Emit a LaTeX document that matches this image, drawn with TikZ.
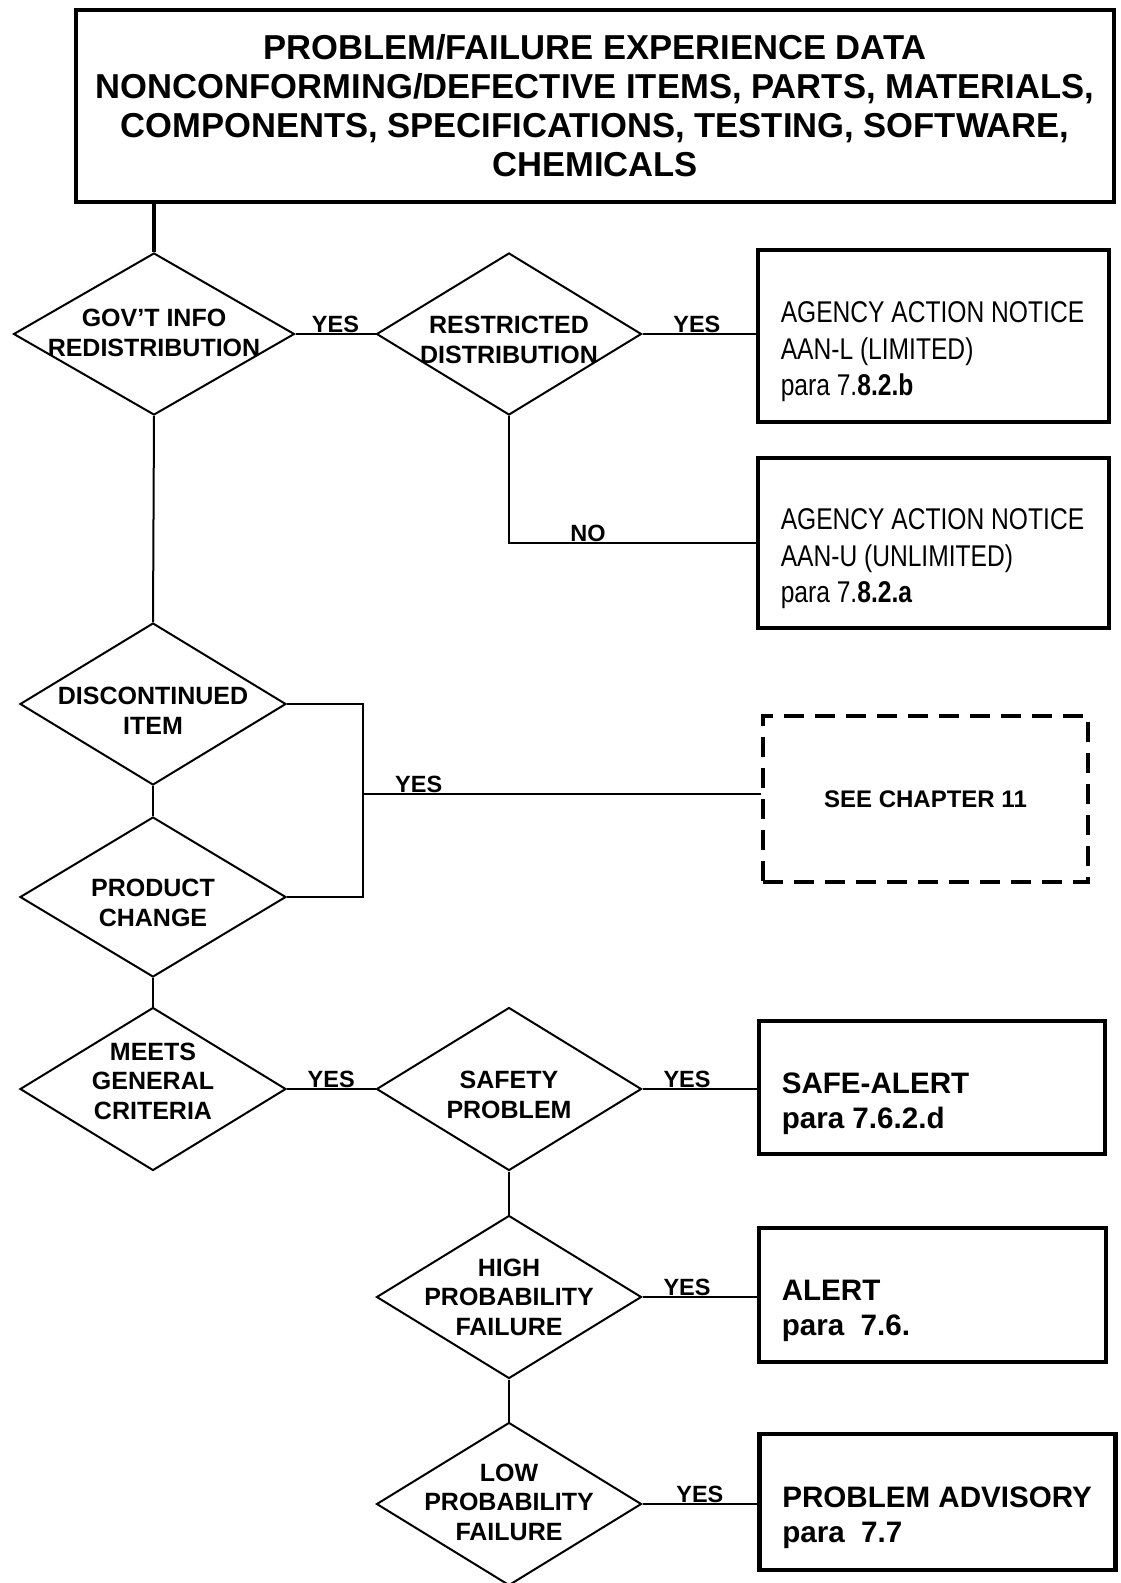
\documentclass[tikz,border=0pt]{standalone}
\usepackage{fontspec}
\setmainfont{Liberation Sans}
\newfontfamily\narrowfont[FakeStretch=0.82]{Liberation Sans}
\usetikzlibrary{shapes.geometric}

\begin{document}
\begin{tikzpicture}[x=1pt,y=-1pt,line width=2pt]
	\tikzstyle{decision}=[diamond,draw,inner sep=0pt,minimum width=265pt,minimum height=163pt]
	\tikzstyle{dtext}=[inner sep=0pt,align=center,font=\fontsize{25}{29.5}\selectfont\bfseries]
	\tikzstyle{outcome}=[rectangle,draw,line width=4.5pt,minimum width=347pt,minimum height=134pt]
	\tikzstyle{otext}=[anchor=west,inner sep=0pt,xshift=24pt,yshift=-16pt,align=left,font=\fontsize{29.6}{35}\selectfont\bfseries]
	\tikzstyle{ntext}=[otext,font=\narrowfont\fontsize{30}{36.5}\selectfont]
	\tikzstyle{ans}=[above,inner sep=0pt,font=\fontsize{23.5}{23.5}\selectfont\bfseries]
	\useasboundingbox (0,0) rectangle (1120,1583);

	\node[rectangle,draw,line width=4.5pt,minimum width=1038pt,minimum height=192pt,align=center,font=\fontsize{34.6}{39}\selectfont\bfseries] (topbox) at (595,106)
		{PROBLEM/FAILURE EXPERIENCE DATA\\NONCONFORMING/DEFECTIVE ITEMS, PARTS, MATERIALS,\\COMPONENTS, SPECIFICATIONS, TESTING, SOFTWARE,\\CHEMICALS};

	\node[decision,minimum width=281pt,minimum height=162pt,label={[dtext,yshift=1pt]center:GOV’T INFO\\REDISTRIBUTION}] (govt) at (154,334) {};
	\node[decision,minimum height=162pt,label={[dtext,yshift=-6pt]center:RESTRICTED\\DISTRIBUTION}] (restr) at (509,334) {};
	\node[decision,minimum width=266pt,minimum height=162pt,label={[dtext,yshift=-7pt]center:DISCONTINUED\\ITEM}] (disc) at (153,704) {};
	\node[decision,minimum width=266pt,minimum height=160pt,label={[dtext,yshift=-6pt]center:PRODUCT\\CHANGE}] (prod) at (153,897) {};
	\node[decision,minimum width=266pt,label={[dtext,yshift=8pt]center:MEETS\\GENERAL\\CRITERIA}] (meets) at (153,1089) {};
	\node[decision,label={[dtext,yshift=-6pt]center:SAFETY\\PROBLEM}] (safety) at (509,1089) {};
	\node[decision,label={[dtext]center:HIGH\\PROBABILITY\\FAILURE}] (high) at (509,1297) {};
	\node[decision,label={[dtext,yshift=2pt]center:LOW\\PROBABILITY\\FAILURE}] (low) at (509,1504) {};

	\node[outcome,minimum width=351pt,minimum height=172pt,label={[ntext]west:AGENCY ACTION NOTICE\\AAN-L (LIMITED)\\para 7.\textbf{8.2.b}}] (aanl) at (933.5,336) {};
	\node[outcome,minimum width=351pt,minimum height=170pt,label={[ntext]west:AGENCY ACTION NOTICE\\AAN-U (UNLIMITED)\\para 7.\textbf{8.2.a}}] (aanu) at (933.5,543) {};
	\node[draw,line width=4pt,dash pattern=on 20pt off 11pt,minimum width=325pt,minimum height=166pt,font=\fontsize{24}{29}\selectfont\bfseries] (chap) at (925.5,799) {SEE CHAPTER 11};
	\node[outcome,minimum width=346pt,minimum height=133pt,label={[otext]west:SAFE-ALERT\\para 7.6.2.d}] (safealert) at (932,1087.5) {};
	\node[outcome,label={[otext]west:ALERT\\para\ \ 7.6.}] (alert) at (932.5,1295) {};
	\node[outcome,minimum width=356pt,minimum height=136pt,label={[otext]west:PROBLEM ADVISORY\\para\ \ 7.7}] (advisory) at (937.5,1502) {};

	\coordinate (join) at (363,794);

	\draw[line width=4pt] (govt.north |- topbox.south) -- (govt.north);
	\draw (govt.east) -- node[ans]{YES} (restr.west);
	\draw (restr.east) -- node[ans,pos=0.48]{YES} (restr.east -| aanl.west);
	\draw (restr.south) |- node[ans,pos=0.66]{NO} (aanu.west);
	\draw (govt.south) -- (disc.north);
	\draw (disc.south) -- (prod.north);
	\draw (prod.south) -- (meets.north);
	\draw (disc.east) -| (join) |- (prod.east);
	\draw (join) -- node[ans,pos=0.14]{YES} (join -| chap.west);
	\draw (meets.east) -- node[ans]{YES} (safety.west);
	\draw (safety.east) -- node[ans,pos=0.39]{YES} (safety.east -| safealert.west);
	\draw (safety.south) -- (high.north);
	\draw (high.east) -- node[ans,pos=0.39]{YES} (high.east -| alert.west);
	\draw (high.south) -- (low.north);
	\draw (low.east) -- node[ans]{YES} (low.east -| advisory.west);
\end{tikzpicture}
\end{document}
